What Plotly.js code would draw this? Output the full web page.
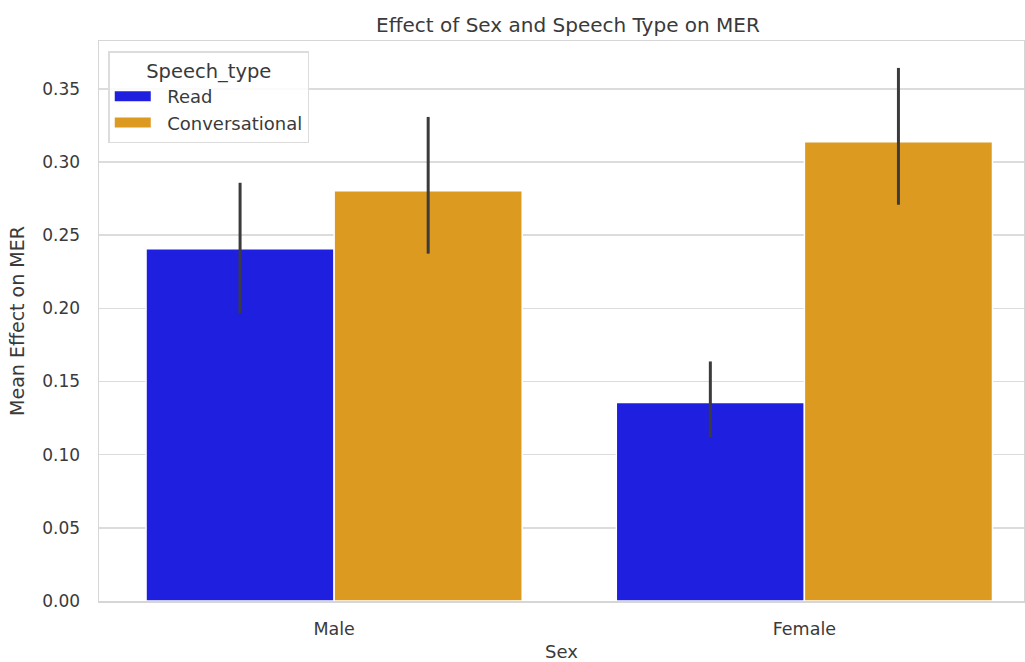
<!DOCTYPE html>
<html>
<head>
<meta charset="utf-8">
<script src="https://cdn.plot.ly/plotly-3.0.1.min.js"></script>
<style>html,body{margin:0;padding:0;background:#fff;}#chart{width:1025px;height:662px;}</style>
</head>
<body>
<div id="chart"></div>
<script>
const categories = ["Male", "Female"];
const seriesNames = ["Read", "Conversational"];
const readMean = [0.2408, 0.1357];
const readUpper = [0.2858, 0.1637];
const readLower = [0.1965, 0.1119];
const convMean = [0.2804, 0.3138];
const convUpper = [0.3308, 0.3643];
const convLower = [0.2374, 0.2708];
const yTicks = [0, 0.05, 0.10, 0.15, 0.20, 0.25, 0.30, 0.35];

const FONT = "DejaVu Sans, sans-serif";
const TXT = "#3a3a3a";
const BLUE = "#1f1fdf";
const ORANGE = "#dd9a20";
const GAP = "\u00a0\u00a0";

function errs(mean, up, lo) {
  return {
    type: "data", symmetric: false,
    array: mean.map((m, i) => up[i] - m),
    arrayminus: mean.map((m, i) => m - lo[i]),
    color: "#3b3b3b", thickness: 3, width: 0
  };
}

const traces = [
  {
    type: "bar", name: seriesNames[0], x: categories, y: readMean, showlegend: false,
    marker: {color: BLUE, line: {color: "#ffffff", width: 1.5}},
    error_y: errs(readMean, readUpper, readLower)
  },
  {
    type: "bar", name: seriesNames[1], x: categories, y: convMean, showlegend: false,
    marker: {color: ORANGE, line: {color: "#ffffff", width: 1.5}},
    error_y: errs(convMean, convUpper, convLower)
  },
  // legend-only entries with wide rectangular swatches
  {type: "scatter", mode: "lines", name: GAP + seriesNames[0], x: [null], y: [null],
   line: {color: BLUE, width: 10}, showlegend: true, hoverinfo: "skip"},
  {type: "scatter", mode: "lines", name: GAP + seriesNames[1], x: [null], y: [null],
   line: {color: ORANGE, width: 10}, showlegend: true, hoverinfo: "skip"}
];

const layout = {
  width: 1025, height: 662,
  margin: {l: 99, r: 1, t: 41, b: 61},
  paper_bgcolor: "#ffffff", plot_bgcolor: "#ffffff",
  font: {family: FONT, color: TXT, size: 16},
  barmode: "group", bargap: 0.2, bargroupgap: 0,
  title: {text: "Effect of Sex and Speech Type on MER", font: {size: 20, color: TXT},
          x: 568 / 1025, xanchor: "center", y: 1 - 25 / 662, yanchor: "middle"},
  xaxis: {
    type: "category", range: [-0.5, 1.467],
    showgrid: false, showline: true, linecolor: "#d6d6d6", linewidth: 1.5, mirror: true,
    ticks: "", ticklabelstandoff: 11, tickfont: {size: 17.5, color: TXT},
    title: {text: "Sex", font: {size: 18, color: TXT}, standoff: 12},
    zeroline: false
  },
  yaxis: {
    range: [0, 0.3827],
    tickvals: yTicks, tickformat: ".2f",
    showgrid: true, gridcolor: "#dcdcdc", gridwidth: 1.5,
    showline: true, linecolor: "#d6d6d6", linewidth: 1.5, mirror: true,
    ticks: "", ticklabelstandoff: 14, tickfont: {size: 17, color: TXT},
    title: {text: "Mean Effect on MER", font: {size: 19, color: TXT}, standoff: 12},
    zeroline: false
  },
  legend: {
    x: 0.01, y: 0.982, xanchor: "left", yanchor: "top",
    bgcolor: "rgba(255,255,255,0.85)", bordercolor: "#dcdcdc", borderwidth: 1.5,
    font: {size: 18, color: TXT}, itemwidth: 36, tracegroupgap: 0,
    title: {text: "Speech_type", side: "top center", font: {size: 19.5, color: TXT}},
    traceorder: "normal"
  },
  showlegend: true
};

Plotly.newPlot("chart", traces, layout, {displayModeBar: false, staticPlot: true});
</script>
</body>
</html>
